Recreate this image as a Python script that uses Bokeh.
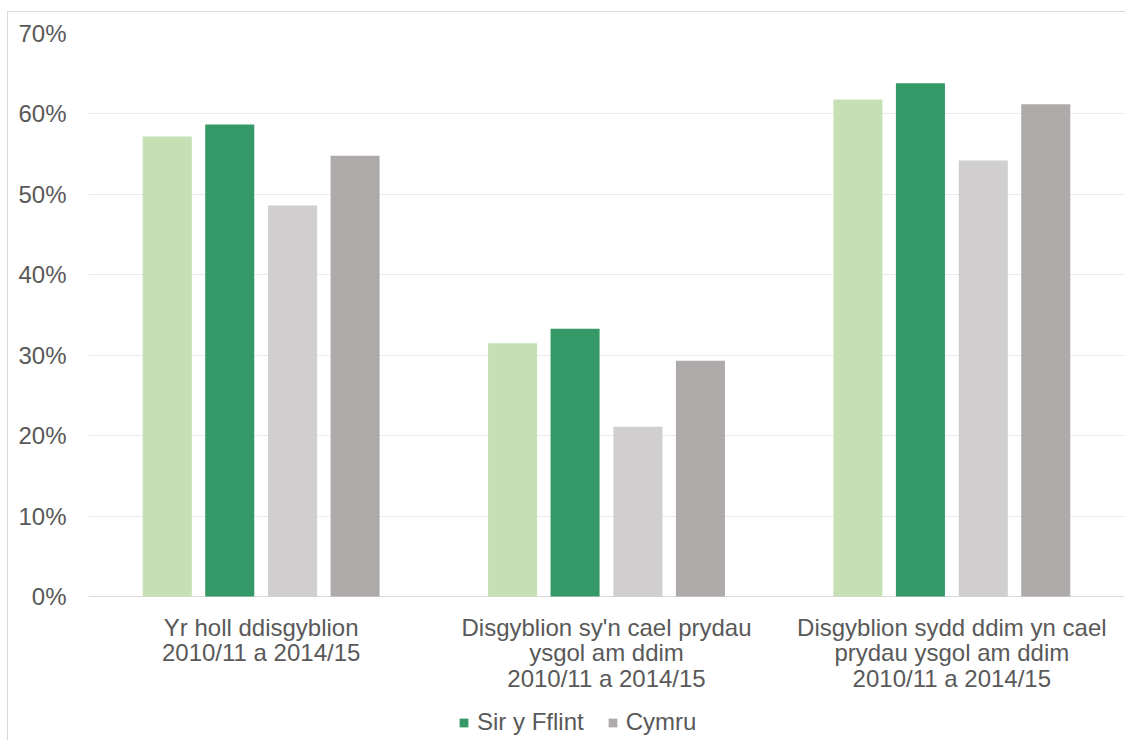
from bokeh.plotting import figure
from bokeh.models import Range1d, FixedTicker, NumeralTickFormatter, Legend, LegendItem, ColumnDataSource, Span
from bokeh.core.properties import value
from bokeh.embed import file_html
from bokeh.resources import INLINE

categories = [
    "Yr holl ddisgyblion\n2010/11 a 2014/15",
    "Disgyblion sy'n cael prydau\nysgol am ddim\n2010/11 a 2014/15",
    "Disgyblion sydd ddim yn cael\nprydau ysgol am ddim\n2010/11 a 2014/15",
]
series_names = ["", "Sir y Fflint", "", "Cymru"]
flint_early = [0.572, 0.315, 0.618]
flint = [0.587, 0.333, 0.638]
wales_early = [0.486, 0.211, 0.542]
wales = [0.548, 0.293, 0.612]
series_values = [flint_early, flint, wales_early, wales]
colors = ["#C5E0B4", "#349967", "#D0CECE", "#AEAAAA"]
offsets = [-0.272, -0.091, 0.091, 0.272]
y_ticks = [0, 0.1, 0.2, 0.3, 0.4, 0.5, 0.6, 0.7]

TEXT = "#595959"
FONT = "Liberation Sans"

W, H = 1118, 729
TOP = 21            # canvas px above the 70% line
PLOT_H = 563        # canvas px between 0% and 70%
y_max = 0.70
px_per_unit = PLOT_H / y_max
below_px = H - TOP - PLOT_H
y_min = -below_px / px_per_unit

p = figure(width=W, height=H, output_backend="svg", toolbar_location=None,
           x_range=Range1d(0, len(categories)), y_range=Range1d(y_min, y_max),
           min_border_left=80, min_border_right=2, min_border_top=TOP, min_border_bottom=0)
p.styles = {"border-left": "1px solid #D9D9D9", "border-top": "1px solid #D9D9D9",
            "margin-left": "7px", "margin-top": "11px"}
p.outline_line_color = None
p.background_fill_color = "white"
p.border_fill_color = "white"

p.xgrid.grid_line_color = None
p.ygrid.grid_line_color = "#EAEAEA"
p.ygrid.grid_line_width = 1

renderers = []
for vals, col, off in zip(series_values, colors, offsets):
    src = ColumnDataSource(dict(x=[i + 0.5 + off for i in range(len(categories))], top=vals))
    r = p.vbar(x="x", top="top", width=0.142, bottom=0, source=src, fill_color=col, line_color=None)
    renderers.append(r)

# baseline at 0%
p.add_layout(Span(location=0, dimension="width", line_color="#D9D9D9", line_width=1, level="underlay"))

# category labels under the bars
lab_src = ColumnDataSource(dict(x=[i + 0.5 for i in range(len(categories))],
                                y=[0] * len(categories), text=categories))
p.text(x="x", y="y", text="text", source=lab_src, y_offset=17,
       text_align="center", text_baseline="top", text_font=value(FONT),
       text_font_size="24px", text_color=TEXT, text_line_height=0.95)

p.xaxis.visible = False

p.yaxis.ticker = FixedTicker(ticks=y_ticks)
p.yaxis.formatter = NumeralTickFormatter(format="0%")
p.yaxis.axis_line_color = None
p.yaxis.major_tick_line_color = None
p.yaxis.minor_tick_line_color = None
p.yaxis.major_label_standoff = 16
p.yaxis.major_label_text_font = FONT
p.yaxis.major_label_text_font_size = "24px"
p.yaxis.major_label_text_color = TEXT

items = [LegendItem(label=n, renderers=[r]) for n, r in zip(series_names, renderers) if n]
legend = Legend(items=items, orientation="horizontal", location=(370, 5),
                label_text_font=FONT, label_text_font_size="24px", label_text_color=TEXT,
                glyph_width=11, glyph_height=11, label_standoff=8, spacing=23,
                padding=0, margin=0, border_line_color=None, background_fill_alpha=0)
p.add_layout(legend, "center")

open("out.html", "w").write(file_html(p, INLINE))
